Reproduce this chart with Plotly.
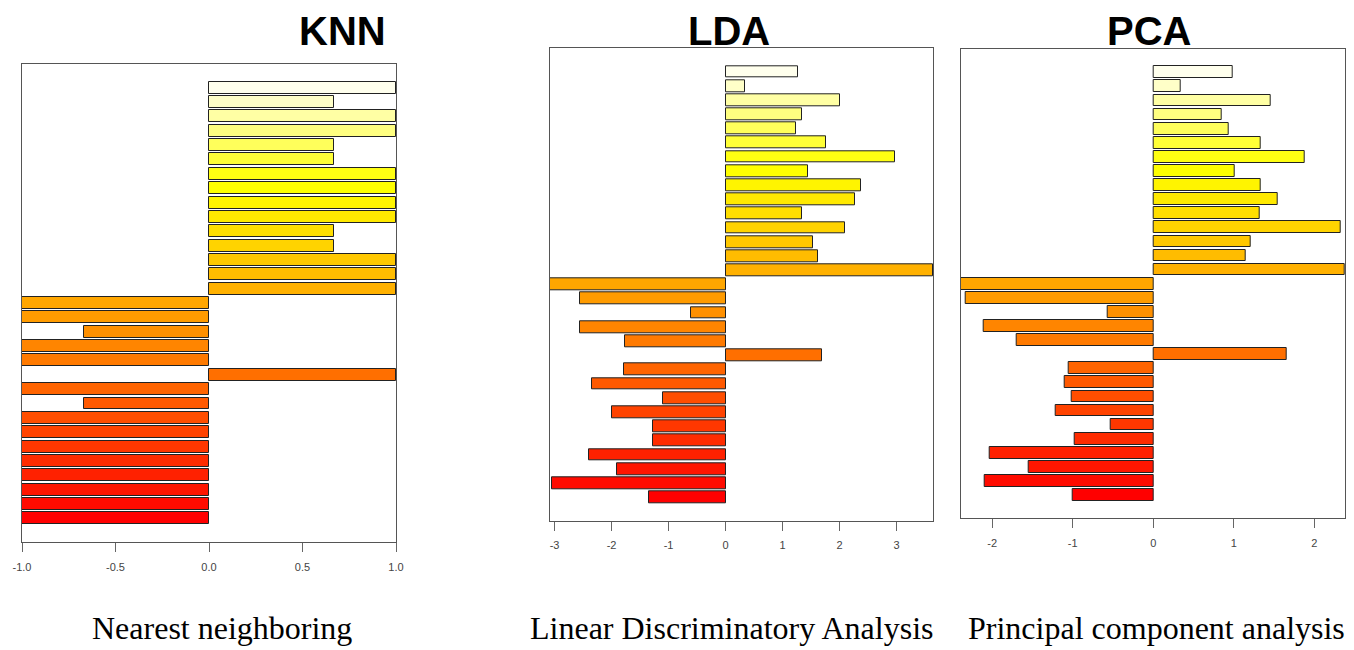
import colorsys
import plotly.graph_objects as go

# ---- data (top-to-bottom order as seen in the picture) ----
knn_values = [1, 0.667, 1, 1, 0.667, 0.667, 1, 1, 1, 1, 0.667, 0.667, 1, 1, 1,
              -1, -1, -0.667, -1, -1, 1, -1, -0.667, -1, -1, -1, -1, -1, -1, -1, -1]
lda_values = [1.28, 0.35, 2.01, 1.35, 1.23, 1.76, 2.97, 1.44, 2.37, 2.27, 1.35, 2.10, 1.53, 1.62, 3.64,
              -3.08, -2.55, -0.61, -2.56, -1.76, 1.70, -1.78, -2.34, -1.09, -1.99, -1.28, -1.28,
              -2.39, -1.90, -3.04, -1.35]
pca_values = [0.99, 0.34, 1.46, 0.85, 0.94, 1.33, 1.88, 1.01, 1.33, 1.54, 1.32, 2.33, 1.21, 1.15, 2.38,
              -2.39, -2.33, -0.57, -2.10, -1.70, 1.66, -1.05, -1.10, -1.01, -1.21, -0.53, -0.98,
              -2.03, -1.54, -2.09, -1.00]
titles = ["KNN", "LDA", "PCA"]
captions = ["Nearest neighboring", "Linear Discriminatory Analysis", "Principal component analysis"]
knn_ticks = [-1.0, -0.5, 0.0, 0.5, 1.0]
knn_ticktext = ["-1.0", "-0.5", "0.0", "0.5", "1.0"]
lda_ticks = [-3, -2, -1, 0, 1, 2, 3]
pca_ticks = [-2, -1, 0, 1, 2]

n = len(knn_values)


def heat_colors(k):
    j = k // 4
    i = k - j
    cols = []
    for t in range(i):
        h = (t / (i - 1)) * (1 / 6) if i > 1 else 0
        cols.append(colorsys.hsv_to_rgb(h, 1, 1))
    for t in range(j):
        s0, s1 = 1 - 1 / (2 * j), 1 / (2 * j)
        s = s0 + (s1 - s0) * t / (j - 1)
        cols.append(colorsys.hsv_to_rgb(1 / 6, s, 1))
    return ["rgb(%d,%d,%d)" % (round(r * 255), round(g * 255), round(b * 255)) for r, g, b in cols]


cols_bottom_up = heat_colors(n)
pos_bottom_up = [1.2 * (i + 1) - 0.5 for i in range(n)]
yrange = [-1.28, 38.68]

# page body has an 8px margin: size the figure to fit the window and shift positions
OFF = 8
W, H = 1354 - OFF, 650 - OFF


def px(x):
    return (x - OFF) / W


def py(y):
    return 1 - (y - OFF) / H


panels = [
    (knn_values, [-1, 1], knn_ticks, knn_ticktext, (22, 396, 64, 542)),
    (lda_values, [min(lda_values), max(lda_values)], lda_ticks, [str(t) for t in lda_ticks], (550, 933, 48.3, 520.7)),
    (pca_values, [min(pca_values), max(pca_values)], pca_ticks, [str(t) for t in pca_ticks], (960.7, 1345, 49, 518.3)),
]
standoffs = [6, 5, 5]

fig = go.Figure()
layout = dict(width=W, height=H, margin=dict(l=0, r=0, t=0, b=0, pad=0, autoexpand=False),
              plot_bgcolor="white", paper_bgcolor="white", showlegend=False, bargap=0)

for k, (vals, xr, tv, tt, (x0, x1, y0, y1)) in enumerate(panels):
    vals_bottom_up = list(reversed(vals))
    xa = "x" if k == 0 else "x%d" % (k + 1)
    ya = "y" if k == 0 else "y%d" % (k + 1)
    fig.add_trace(go.Bar(
        x=vals_bottom_up, y=pos_bottom_up, orientation="h", width=1.0,
        marker=dict(color=cols_bottom_up, line=dict(color="#222222", width=1)),
        xaxis=xa, yaxis=ya, hoverinfo="x"))
    xkey = "xaxis" if k == 0 else "xaxis%d" % (k + 1)
    ykey = "yaxis" if k == 0 else "yaxis%d" % (k + 1)
    layout[xkey] = dict(domain=[px(x0), px(x1)], range=xr, anchor=ya, automargin=False,
                        showgrid=False, zeroline=False,
                        showline=True, mirror=True, linecolor="#555555", linewidth=1,
                        ticks="outside", ticklen=9, tickcolor="#666666", tickwidth=1,
                        tickvals=tv, ticktext=tt,
                        tickfont=dict(family="Liberation Sans Narrow, Liberation Sans, Arial", size=11, color="#444444"),
                        ticklabelstandoff=standoffs[k])
    layout[ykey] = dict(domain=[py(y1), py(y0)], range=yrange, anchor=xa, automargin=False,
                        showgrid=False, zeroline=False, showticklabels=False,
                        showline=True, mirror=True, linecolor="#555555", linewidth=1,
                        ticks="")

fig.update_layout(**layout)

title_x = [342, 729, 1149]
cap_x = [222.5, 731.7, 1156.7]
for k in range(3):
    fig.add_annotation(x=px(title_x[k]), y=1.0, xref="paper", yref="paper",
                       text="<b>%s</b>" % titles[k], showarrow=False,
                       xanchor="center", yanchor="top", borderpad=0,
                       font=dict(family="Liberation Sans, Arial", size=40, color="black"))
    fig.add_annotation(x=px(cap_x[k]), y=py(628), xref="paper", yref="paper",
                       text=captions[k], showarrow=False,
                       xanchor="center", yanchor="middle",
                       font=dict(family="Liberation Serif, Times New Roman", size=32, color="black"))

fig.write_html("out.html")
